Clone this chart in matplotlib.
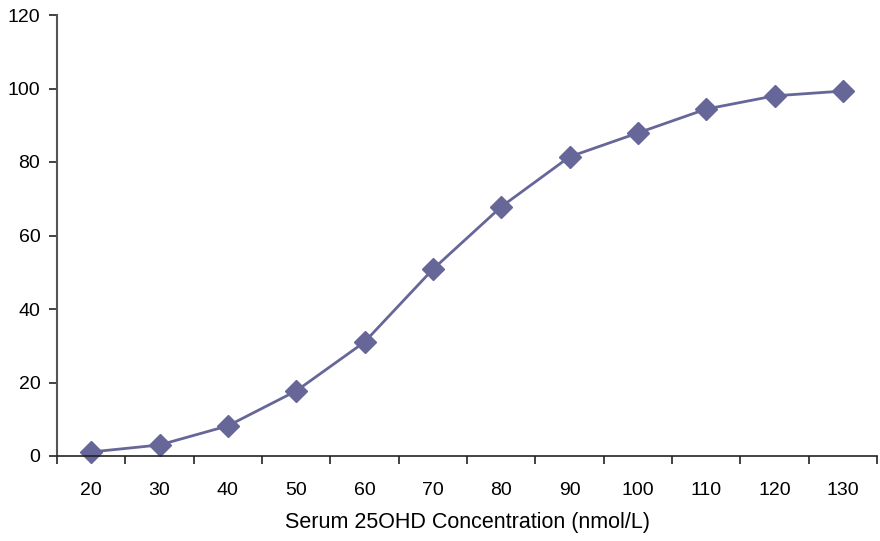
import matplotlib
matplotlib.use("Agg")
import matplotlib.pyplot as plt
import numpy as np

plt.rcParams['font.family'] = ['Liberation Sans', 'DejaVu Sans']

concentrations = [20, 30, 40, 50, 60, 70, 80, 90, 100, 110, 120, 130]
percent_values = [1.1, 3.0, 8.2, 17.7, 31.0, 50.8, 67.8, 81.4, 87.9, 94.4, 98.0, 99.3]
y_ticks = [0, 20, 40, 60, 80, 100, 120]

fig = plt.figure(figsize=(8.8, 5.41), dpi=100)
ax = fig.add_axes([57 / 880, (541 - 456) / 541, 820 / 880, 441 / 541])

pos = np.arange(len(concentrations))
ax.plot(pos, percent_values, color='#666699', linewidth=2.0, marker='D',
        markersize=11.5, markerfacecolor='#666699', markeredgecolor='#666699',
        clip_on=False)

ax.set_xlim(-0.5, len(concentrations) - 0.5)
ax.set_ylim(0, 120)
ax.set_yticks(y_ticks)
ax.set_yticklabels([str(v) for v in y_ticks])

# category labels centred in each bin, tick marks on bin boundaries
ax.set_xticks(pos)
ax.set_xticklabels([str(c) for c in concentrations])
ax.set_xticks(np.arange(-0.5, len(concentrations) + 0.5, 1.0), minor=True)
ax.tick_params(axis='x', which='major', length=0, pad=19, labelsize=14)
ax.tick_params(axis='x', which='minor', length=6, width=1.2, direction='out', color='#222222')
ax.tick_params(axis='y', length=6, width=1.2, direction='out', pad=6, labelsize=14, color='#222222')

for side in ('top', 'right'):
    ax.spines[side].set_visible(False)
ax.spines['left'].set_color('#555555')
ax.spines['left'].set_linewidth(1.5)
ax.spines['bottom'].set_color('#222222')
ax.spines['bottom'].set_linewidth(1.2)

ax.set_xlabel('Serum 25OHD Concentration (nmol/L)', fontsize=15.5, labelpad=9)

fig.savefig('out.png', dpi=100)
